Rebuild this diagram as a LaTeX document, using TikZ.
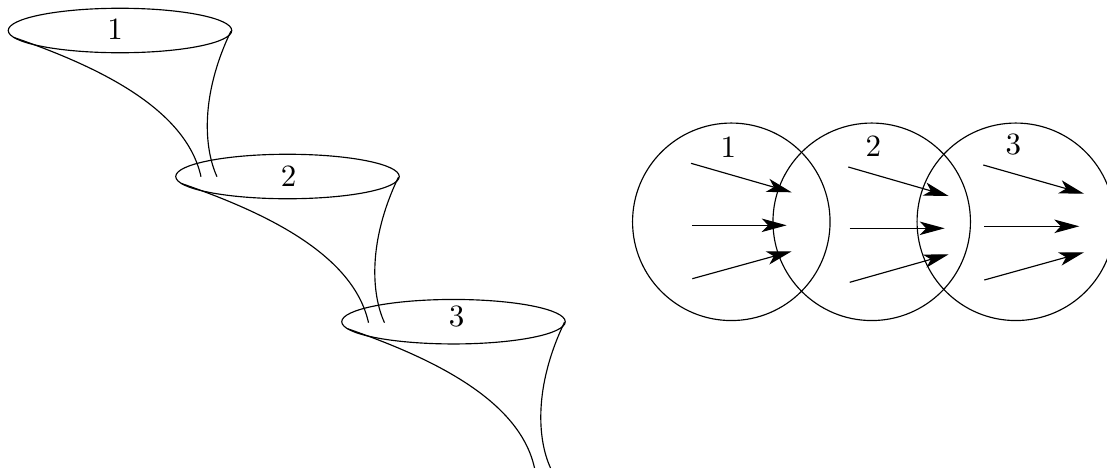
\documentclass[tikz,border=0pt]{standalone}
\usepackage{fontspec}
\setmainfont{lmroman10-regular.otf}
\usetikzlibrary{arrows.meta,shapes.geometric}
\tikzset{
  x=1pt,y=-1pt,
  line/.style={line width=1.15pt,black},
  rim/.style={line,ellipse,draw,minimum width=223.5pt,minimum height=44.5pt,inner sep=0pt},
  disc/.style={line,circle,draw,minimum size=197.5pt,inner sep=0pt},
  num/.style={inner sep=0pt,font=\fontsize{31}{31}\selectfont},
  flow/.style={line,-{Stealth[length=25pt,width=13.5pt,inset=6.5pt]}},
  wall/.style={line}
}
\begin{document}
\begin{tikzpicture}
\useasboundingbox (0,0) rectangle (1107,469);
\clip (0,0) rectangle (1107,469);
% funnels
\foreach \n/\cx/\cy/\lx/\ly in {1/120/30.5/115/29, 2/287.5/176.5/288.7/176.5, 3/453.5/321.7/456.7/317}{
  \node[rim] (e\n) at (\cx,\cy) {};
  \node[num] (t\n) at (\lx,\ly) {\n};
  \begin{scope}[shift={(\cx,\cy)}]
    \coordinate (la\n) at (-106,7);
    \coordinate (lb\n) at (81,146.2);
    \coordinate (ra\n) at (111,0.5);
    \coordinate (rb\n) at (97,146.2);
    \draw[wall] (la\n) .. controls (-22,36) and (66,78) .. (lb\n);
    \draw[wall] (ra\n) .. controls (80,65) and (84,118) .. (rb\n);
  \end{scope}
}
% circles
\node[disc] (c1) at (731.3,221.8) {};
\node[disc] (c2) at (871.7,221.8) {};
\node[disc] (c3) at (1015.8,221.8) {};
\node[num] (u1) at (728.3,147) {1};
\node[num] (u2) at (873.3,146) {2};
\node[num] (u3) at (1013.3,145) {3};
% arrows
\foreach \k/\ax/\ay/\bx/\by in {
 a/691/163.3/791.7/192.3, b/692.3/225.3/786.7/225.3, c/692.3/278.7/791.7/251.3,
 d/848.3/167/948.7/196, e/849.7/228.3/944.7/228.3, f/849.7/282.3/948.7/254.3,
 g/983.3/165/1084/193.7, h/984.3/226.3/1079.3/226.3, i/984.3/280/1084/252.3}{
  \coordinate (s\k) at (\ax,\ay);
  \coordinate (f\k) at (\bx,\by);
  \draw[flow] (s\k) -- (f\k);
}
\end{tikzpicture}
\end{document}
